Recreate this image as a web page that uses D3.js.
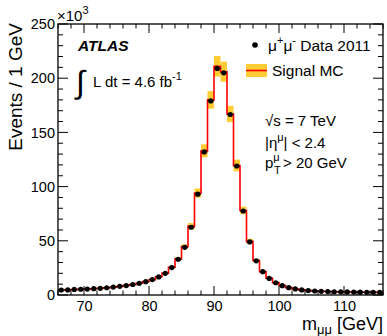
<!DOCTYPE html>
<html><head><meta charset="utf-8">
<script src="https://cdn.jsdelivr.net/npm/d3@7"></script>
<style>
html,body{margin:0;padding:0;background:#fff;}
svg text{font-family:"Liberation Sans",Arial,Helvetica,sans-serif;fill:#000;}
</style></head>
<body><svg id="c" width="387" height="336"></svg>
<script>
// bin lower edges (GeV), 1 GeV bins
const binEdges = d3.range(66, 116, 1);
// data (x10^3 events)
const dataValues = [4.6,4.7,5.1,5.3,5.5,5.8,6.2,6.7,7.3,8.0,
  8.7,9.7,10.8,12.3,14.2,16.7,20.0,25.3,33.0,44.0,
  62.5,93.0,132.0,179.0,209.0,205.0,166.5,119.0,77.5,49.0,
  31.5,21.5,15.3,11.3,8.6,6.8,5.6,4.7,4.1,3.7,
  3.4,3.2,3.0,2.9,2.8,2.7,2.6,2.5,2.5,2.4];
// signal MC (x10^3 events)
const mcValues = [4.5,4.7,5.0,5.3,5.5,5.8,6.2,6.6,7.2,7.9,
  8.7,9.6,10.8,12.3,14.2,16.8,20.2,25.6,33.4,44.8,
  63.5,94.0,133.0,180.0,211.0,206.0,167.0,119.5,78.0,49.5,
  31.8,21.6,15.4,11.4,8.7,6.8,5.6,4.7,4.1,3.7,
  3.4,3.2,3.0,2.9,2.8,2.7,2.6,2.5,2.5,2.4];
const mcRelUnc = 0.045;
const yTicks = [0,50,100,150,200,250];
const xTicks = [70,80,90,100,110];

const svg = d3.select("#c");
const L=58, R=383, T=24, B=295;
const x = d3.scaleLinear().domain([66,116]).range([L,R]);
const y = d3.scaleLinear().domain([0,250]).range([B,T]);

// MC uncertainty band
svg.append("g").selectAll("rect").data(binEdges).join("rect")
  .attr("x", d=>x(d)).attr("width", d=>x(d+1)-x(d))
  .attr("y", (d,i)=>y(mcValues[i]*(1+mcRelUnc)))
  .attr("height", (d,i)=>y(mcValues[i]*(1-mcRelUnc))-y(mcValues[i]*(1+mcRelUnc)))
  .attr("fill","#ffcc33");

// MC step line
const steps=[];
binEdges.forEach((d,i)=>{steps.push([d,mcValues[i]]);steps.push([d+1,mcValues[i]]);});
svg.append("path").datum(steps)
  .attr("d", d3.line().x(d=>x(d[0])).y(d=>y(d[1])))
  .attr("fill","none").attr("stroke","#ff0000").attr("stroke-width",1.6);

// data
const dg = svg.append("g");
dg.selectAll("line").data(binEdges).join("line")
  .attr("x1", d=>x(d)).attr("x2", d=>x(d+1))
  .attr("y1", (d,i)=>y(dataValues[i])).attr("y2",(d,i)=>y(dataValues[i]))
  .attr("stroke","#000").attr("stroke-width",1);
dg.selectAll("circle").data(binEdges).join("circle")
  .attr("cx", d=>x(d+0.5)).attr("cy",(d,i)=>y(dataValues[i])).attr("r",2.6)
  .attr("fill","#000");

// frame
svg.append("rect").attr("x",L).attr("y",T).attr("width",R-L).attr("height",B-T)
  .attr("fill","none").attr("stroke","#000").attr("stroke-width",1.3);

// axes
const fs = "14.5px";
const yAxisL = d3.axisLeft(y).tickValues(yTicks).tickSize(0).tickPadding(3);
const gy = svg.append("g").attr("transform",`translate(${L},0)`).call(yAxisL);
gy.select(".domain").remove();
gy.selectAll("text").style("font-size",fs).attr("font-family","Liberation Sans, Arial, sans-serif");
const xAxisB = d3.axisBottom(x).tickValues(xTicks).tickSize(0).tickPadding(6);
const gx = svg.append("g").attr("transform",`translate(0,${B})`).call(xAxisB);
gx.select(".domain").remove();
gx.selectAll("text").style("font-size",fs).attr("font-family","Liberation Sans, Arial, sans-serif");

// ticks
const tg = svg.append("g").attr("stroke","#000").attr("stroke-width",1);
d3.range(0,251,10).forEach(v=>{
  const len = v%50===0?10:5;
  tg.append("line").attr("x1",L).attr("x2",L+len).attr("y1",y(v)).attr("y2",y(v));
  tg.append("line").attr("x1",R).attr("x2",R-len).attr("y1",y(v)).attr("y2",y(v));
});
d3.range(66,117,2).forEach(v=>{
  const len = v%10===0?9:4.5;
  tg.append("line").attr("x1",x(v)).attr("x2",x(v)).attr("y1",B).attr("y2",B-len);
  tg.append("line").attr("x1",x(v)).attr("x2",x(v)).attr("y1",T).attr("y2",T+len);
});

// exponent
const ex = svg.append("text").attr("x",57).attr("y",21).style("font-size","15px");
ex.append("tspan").text("×10");
ex.append("tspan").attr("dy",-7).style("font-size","11px").text("3");

// axis titles
svg.append("text").attr("transform",`translate(22,${T-1}) rotate(-90)`)
  .attr("text-anchor","end").style("font-size","19px").text("Events / 1 GeV");
const xt = svg.append("text").attr("x",383).attr("y",330).attr("text-anchor","end").style("font-size","18px");
xt.append("tspan").text("m");
xt.append("tspan").attr("dy",4).style("font-size","13px").text("μμ");
xt.append("tspan").attr("dy",-4).text(" [GeV]");

// ATLAS label
svg.append("text").attr("x",78).attr("y",51).style("font-size","15.5px")
  .style("font-weight","bold").style("font-style","italic").text("ATLAS");
svg.append("text").attr("x",76).attr("y",93).style("font-size","32px").text("∫");
const lt = svg.append("text").attr("x",93).attr("y",87).style("font-size","15px");
lt.append("tspan").text("L dt = 4.6 fb");
lt.append("tspan").attr("dy",-7).style("font-size","11px").text("-1");

// legend
svg.append("circle").attr("cx",255).attr("cy",45).attr("r",2.8).attr("fill","#000");
const l1 = svg.append("text").attr("x",268).attr("y",51).style("font-size","15.5px");
l1.append("tspan").text("μ");
l1.append("tspan").attr("dy",-7).style("font-size","11px").text("+");
l1.append("tspan").attr("dy",7).text("μ");
l1.append("tspan").attr("dy",-7).style("font-size","11px").text("-");
l1.append("tspan").attr("dy",7).text(" Data 2011");
svg.append("rect").attr("x",246).attr("y",64).attr("width",21).attr("height",13).attr("fill","#ffcc33");
svg.append("line").attr("x1",246).attr("x2",267).attr("y1",70.5).attr("y2",70.5).attr("stroke","#ff0000").attr("stroke-width",1.6);
svg.append("text").attr("x",272).attr("y",76).style("font-size","15.5px").text("Signal MC");

// cuts
const s1 = svg.append("text").attr("x",265).attr("y",126).style("font-size","15px");
s1.append("tspan").text("√s = 7 TeV");
const s2 = svg.append("text").attr("x",265).attr("y",148).style("font-size","15px");
s2.append("tspan").text("|η");
s2.append("tspan").attr("dy",-7).style("font-size","11px").text("μ");
s2.append("tspan").attr("dy",7).text("| < 2.4");
const s3 = svg.append("text").attr("x",265).attr("y",168).style("font-size","15px");
s3.append("tspan").text("p");
s3.append("tspan").attr("dy",-7).style("font-size","11px").text("μ");
s3.append("tspan").attr("x",274).attr("dy",13).style("font-size","11px").text("T");
s3.append("tspan").attr("x",283).attr("dy",-6).text("> 20 GeV");
</script></body></html>
